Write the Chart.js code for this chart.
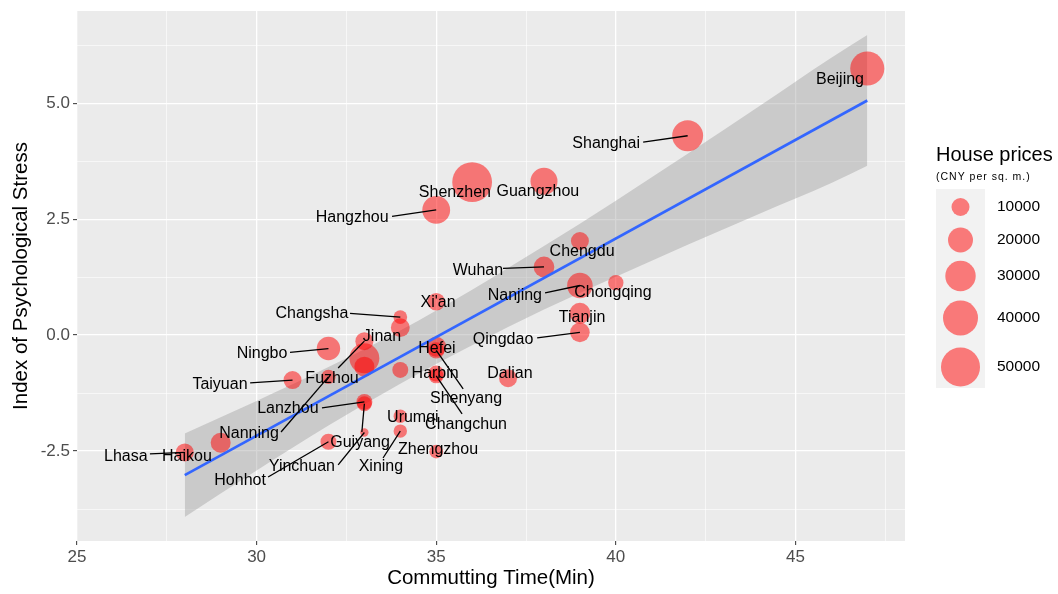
<!DOCTYPE html>
<html>
<head>
<meta charset="utf-8">
<script src="https://cdn.jsdelivr.net/npm/chart.js"></script>
<style>
  html, body { margin: 0; padding: 0; background: #fff; }
  #wrap { width: 1058px; height: 594px; }
</style>
</head>
<body>
<div id="wrap"><canvas id="bubbleChart" width="1058" height="594"></canvas></div>
<script>
// ---- data ----
var cities   = ['Beijing', 'Shanghai', 'Shenzhen', 'Guangzhou', 'Hangzhou', 'Chengdu', 'Wuhan', 'Nanjing',
                'Chongqing', 'Tianjin', 'Qingdao', "Xi'an", 'Changsha', 'Jinan', 'Fuzhou', 'Ningbo',
                'Taiyuan', 'Nanning', 'Lanzhou', 'Guiyang', 'Yinchuan', 'Hohhot', 'Urumqi', 'Xining',
                'Zhengzhou', 'Hefei', 'Shenyang', 'Harbin', 'Changchun', 'Dalian', 'Haikou', 'Lhasa',
                '', '', ''];
var commute  = [47, 42, 36, 38, 35, 39, 38, 39,
                40, 39, 39, 35, 34, 33, 33, 32,
                31, 32, 33, 33, 33, 32, 34, 34,
                35, 35, 35, 35, 35, 37, 29, 28,
                34, 33, 34];
var stress   = [5.75, 4.30, 3.30, 3.32, 2.70, 2.03, 1.47, 1.07,
                1.13, 0.47, 0.06, 0.72, 0.39, -0.50, -0.13, -0.29,
                -0.97, -0.90, -1.44, -1.48, -2.10, -2.30, -1.75, -2.07,
                -2.51, -0.25, -0.33, -0.83, -0.88, -0.93, -2.32, -2.53,
                0.16, -0.68, -0.75];
var prices   = [38000, 31000, 52000, 23500, 25000, 10000, 13500, 21000,
                7000, 14000, 12000, 9500, 5500, 29000, 10000, 17500,
                10000, 6000, 7700, 6500, 1500, 7700, 5200, 5200,
                5500, 12500, 8000, 7700, 6500, 10000, 12500, 10000,
                11000, 12500, 7700];

// linear fit and its confidence band
var fitX     = [28, 47];
var fitY     = [-3.02, 5.06];
var bandX    = [28, 30, 32, 34, 36, 38, 40, 42, 44, 46, 47];
var bandHigh = [-2.12, -1.42, -0.69, 0.10, 0.98, 1.92, 2.90, 3.91, 4.94, 5.98, 6.47];
var bandLow  = [-3.92, -2.92, -1.95, -1.05, -0.22, 0.55, 1.26, 1.95, 2.62, 3.28, 3.65];

var sizeBreaks = [10000, 20000, 30000, 40000, 50000];
var xTicks = [25, 30, 35, 40, 45];
var yTicks = [-2.5, 0, 2.5, 5];

// label placement (data units): text centre, and where the leader line starts
var labelAt = {
  'Beijing': [46.24, 5.50], 'Shanghai': [39.73, 4.12], 'Shenzhen': [35.52, 3.08], 'Guangzhou': [37.83, 3.10],
  'Hangzhou': [32.66, 2.54], 'Chengdu': [39.06, 1.81], 'Wuhan': [36.16, 1.40], 'Nanjing': [37.19, 0.86],
  'Chongqing': [39.92, 0.91], 'Tianjin': [39.06, 0.37], 'Qingdao': [36.86, -0.09], "Xi'an": [35.05, 0.71],
  'Changsha': [31.54, 0.47], 'Jinan': [33.49, -0.04], 'Ningbo': [30.15, -0.39], 'Fuzhou': [32.10, -0.93],
  'Taiyuan': [28.98, -1.06], 'Lanzhou': [30.87, -1.59], 'Nanning': [29.79, -2.13], 'Guiyang': [32.88, -2.31],
  'Yinchuan': [31.26, -2.84], 'Hohhot': [29.54, -3.13], 'Urumqi': [34.35, -1.77], 'Xining': [33.46, -2.84],
  'Zhengzhou': [35.05, -2.46], 'Hefei': [35.02, -0.28], 'Harbin': [34.97, -0.82], 'Shenyang': [35.83, -1.36],
  'Changchun': [35.83, -1.92], 'Dalian': [37.05, -0.82], 'Haikou': [28.06, -2.61], 'Lhasa': [26.36, -2.61]
};
var segFrom = {
  'Shanghai': [40.76, 4.16], 'Hangzhou': [33.77, 2.56], 'Wuhan': [36.86, 1.44], 'Nanjing': [38.03, 0.91],
  'Qingdao': [37.81, -0.06], 'Changsha': [32.60, 0.47], 'Ningbo': [30.93, -0.37], 'Fuzhou': [32.27, -0.71],
  'Taiyuan': [29.82, -1.03], 'Lanzhou': [31.82, -1.57], 'Nanning': [30.68, -2.09], 'Guiyang': [32.93, -2.09],
  'Yinchuan': [32.27, -2.80], 'Hohhot': [30.32, -3.06], 'Xining': [33.52, -2.65], 'Shenyang': [35.75, -1.16],
  'Changchun': [35.72, -1.70], 'Lhasa': [27.03, -2.56]
};

var FONT = '"Liberation Sans", Arial, sans-serif';

function radiusFor(v) {
  return Math.sqrt(6 + 0.0075 * v);
}

var bubbles = cities.map(function (c, i) {
  return { x: commute[i], y: stress[i], r: radiusFor(prices[i]) };
});

// ---- plugins ----
var panelBg = {
  id: 'panelBg',
  beforeDraw: function (chart) {
    var a = chart.chartArea, ctx = chart.ctx;
    ctx.save();
    ctx.fillStyle = '#EBEBEB';
    ctx.fillRect(a.left, a.top, a.right - a.left, a.bottom - a.top);
    ctx.restore();
  }
};

var cityLabels = {
  id: 'cityLabels',
  afterDatasetsDraw: function (chart) {
    var ctx = chart.ctx, xs = chart.scales.x, ys = chart.scales.y;
    ctx.save();
    ctx.strokeStyle = '#000';
    ctx.lineWidth = 1.3;
    cities.forEach(function (c, i) {
      if (!c || !segFrom[c]) return;
      ctx.beginPath();
      ctx.moveTo(xs.getPixelForValue(segFrom[c][0]), ys.getPixelForValue(segFrom[c][1]));
      ctx.lineTo(xs.getPixelForValue(commute[i]), ys.getPixelForValue(stress[i]));
      ctx.stroke();
    });
    ctx.fillStyle = '#000';
    ctx.font = '16px ' + FONT;
    ctx.textAlign = 'center';
    ctx.textBaseline = 'middle';
    cities.forEach(function (c) {
      if (!c) return;
      var p = labelAt[c];
      ctx.fillText(c, xs.getPixelForValue(p[0]), ys.getPixelForValue(p[1]));
    });
    ctx.restore();
  }
};

var sizeLegend = {
  id: 'sizeLegend',
  afterDraw: function (chart) {
    var ctx = chart.ctx;
    var keyY = [207, 240, 276, 318, 367];
    ctx.save();
    ctx.fillStyle = '#000';
    ctx.textAlign = 'left';
    ctx.textBaseline = 'middle';
    ctx.font = '20px ' + FONT;
    ctx.fillText('House prices', 936, 155);
    ctx.font = '10.5px ' + FONT;
    ctx.letterSpacing = '1px';
    ctx.fillText('(CNY per sq. m.)', 936, 177);
    ctx.letterSpacing = '0px';
    ctx.fillStyle = '#F2F2F2';
    ctx.fillRect(936, 189, 49, 199);
    sizeBreaks.forEach(function (b, i) {
      ctx.beginPath();
      ctx.arc(960.5, keyY[i], radiusFor(b), 0, Math.PI * 2);
      ctx.fillStyle = 'rgba(255,0,0,0.5)';
      ctx.fill();
      ctx.fillStyle = '#000';
      ctx.font = '15.5px ' + FONT;
      ctx.fillText(String(b), 997, keyY[i]);
    });
    ctx.restore();
  }
};

// ---- chart ----
var xGrid = [25, 27.5, 30, 32.5, 35, 37.5, 40, 42.5, 45, 47.5];
var yGrid = [-3.75, -2.5, -1.25, 0, 1.25, 2.5, 3.75, 5, 6.25];

function isMajor(list, v) {
  return list.indexOf(v) !== -1;
}

window.onload = function () {
  var ctx = document.getElementById('bubbleChart').getContext('2d');
  window.myBubble = new Chart(ctx, {
    type: 'bubble',
    data: {
      datasets: [
        {
          type: 'line',
          label: 'band high',
          data: bandX.map(function (x, i) { return { x: x, y: bandHigh[i] }; }),
          borderWidth: 0,
          pointRadius: 0,
          cubicInterpolationMode: 'monotone',
          backgroundColor: 'rgba(153,153,153,0.4)',
          fill: '+1',
          order: 3
        },
        {
          type: 'line',
          label: 'band low',
          data: bandX.map(function (x, i) { return { x: x, y: bandLow[i] }; }),
          borderWidth: 0,
          pointRadius: 0,
          cubicInterpolationMode: 'monotone',
          fill: false,
          order: 4
        },
        {
          label: 'Cities',
          data: bubbles,
          backgroundColor: 'rgba(255,0,0,0.5)',
          borderWidth: 0,
          order: 2
        },
        {
          type: 'line',
          label: 'fit',
          data: fitX.map(function (x, i) { return { x: x, y: fitY[i] }; }),
          borderColor: '#3366FF',
          borderWidth: 2.6,
          pointRadius: 0,
          fill: false,
          order: 1
        }
      ]
    },
    options: {
      responsive: false,
      animation: false,
      layout: { autoPadding: false, padding: { top: 11, right: 153, left: 0, bottom: 0 } },
      plugins: {
        legend: { display: false },
        tooltip: { enabled: false }
      },
      scales: {
        x: {
          type: 'linear',
          min: 25,
          max: 48.05,
          afterBuildTicks: function (scale) {
            scale.ticks = xGrid.map(function (v) { return { value: v }; });
          },
          afterFit: function (scale) { scale.height = 53; scale.paddingRight = 0; },
          ticks: {
            autoSkip: false,
            maxRotation: 0,
            padding: 2,
            color: '#4D4D4D',
            font: { family: FONT, size: 17 },
            callback: function (v) { return isMajor(xTicks, v) ? String(v) : ''; }
          },
          grid: {
            color: '#FFFFFF',
            lineWidth: function (c) { return c.tick && isMajor(xTicks, c.tick.value) ? 1.3 : 0.6; },
            tickColor: function (c) { return c.tick && isMajor(xTicks, c.tick.value) ? '#333333' : 'rgba(0,0,0,0)'; },
            tickLength: 4,
            tickWidth: 1
          },
          border: { display: false },
          title: {
            display: true,
            text: 'Commutting Time(Min)',
            color: '#000',
            font: { family: FONT, size: 20.5 },
            padding: { top: 4, bottom: 3 }
          }
        },
        y: {
          type: 'linear',
          min: -4.44,
          max: 6.99,
          afterBuildTicks: function (scale) {
            scale.ticks = yGrid.map(function (v) { return { value: v }; });
          },
          afterFit: function (scale) { scale.width = 77; scale.paddingTop = 0; scale.paddingBottom = 0; },
          ticks: {
            autoSkip: false,
            padding: 3,
            color: '#4D4D4D',
            font: { family: FONT, size: 17 },
            callback: function (v) { return isMajor(yTicks, v) ? v.toFixed(1) : ''; }
          },
          grid: {
            color: '#FFFFFF',
            lineWidth: function (c) { return c.tick && isMajor(yTicks, c.tick.value) ? 1.3 : 0.6; },
            tickColor: function (c) { return c.tick && isMajor(yTicks, c.tick.value) ? '#333333' : 'rgba(0,0,0,0)'; },
            tickLength: 4,
            tickWidth: 1
          },
          border: { display: false },
          title: {
            display: true,
            text: 'Index of Psychological Stress',
            color: '#000',
            font: { family: FONT, size: 20.5 },
            padding: { top: 9, bottom: 2 }
          }
        }
      }
    },
    plugins: [panelBg, cityLabels, sizeLegend]
  });
};
</script>
</body>
</html>
